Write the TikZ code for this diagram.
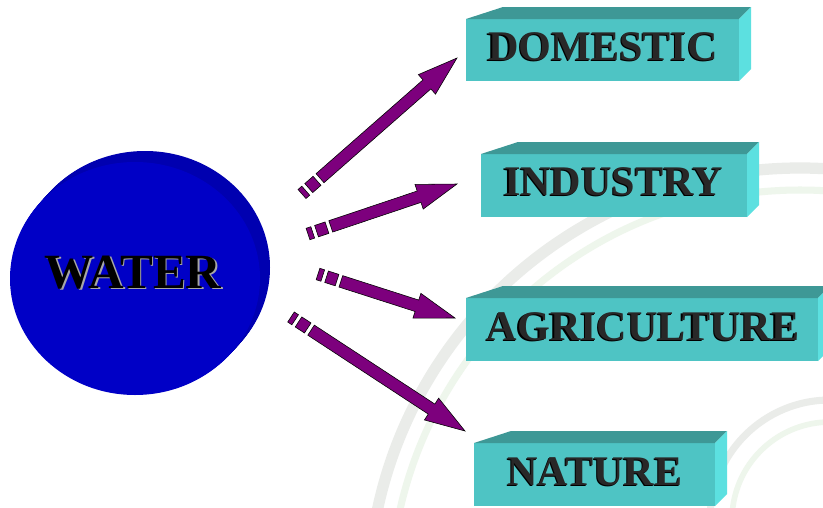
\documentclass[tikz,border=0pt]{standalone}
\usepackage{fontspec}
\setmainfont{Liberation Serif}
\usetikzlibrary{calc}

\definecolor{slabfront}{RGB}{78,196,196}
\definecolor{slabback}{RGB}{62,152,150}
\definecolor{slabside}{RGB}{92,224,224}
\definecolor{arrowpurple}{RGB}{125,0,125}
\definecolor{waterfront}{RGB}{0,0,198}
\definecolor{waterside}{RGB}{0,0,176}
\definecolor{sealgray}{RGB}{234,236,233}
\definecolor{sealgreen}{RGB}{238,246,236}
\definecolor{labelgray}{RGB}{40,40,40}

\tikzset{
  slab/.style={fill=slabfront, inner sep=0pt, outer sep=0pt},
  slablabel/.style={anchor=base, text=labelgray, font=\fontsize{30}{30}\selectfont\bfseries},
  slabshadow/.style={slablabel, text=black},
  stripearrow/.style={fill=arrowpurple, draw=black, line width=0.4pt},
}

\begin{document}
\begin{tikzpicture}[x=0.025cm, y=-0.025cm]
  % Page: one unit = one pixel of the 823x507 slide
  \fill[white] (0,0) rectangle (823,507);
  \useasboundingbox (0,0) rectangle (823,507);
  \clip (0,0) rectangle (823,507);

  % Faint seal in the background
  \draw[sealgray, line width=8] (800,600) circle (432);
  \draw[sealgreen, line width=5] (800,600) circle (410);
  \draw[sealgray, line width=5] (830,520) circle (120);
  \draw[sealgreen, line width=4] (830,520) circle (98);

  % Water cylinder: stacked discs, front disc last
  \foreach \k in {10,9,...,1} {
    \fill[waterside] ({135+\k},{278.5-1.1*\k}) ellipse [x radius=125, y radius=116.5];
  }
  \fill[waterfront] (135,278.5) ellipse [x radius=125, y radius=116.5];
  \node[anchor=base, text=black!35, font=\fontsize{35}{35}\selectfont\bfseries] (watershadow) at (134.7,289.7) {WATER};
  \node[anchor=base, text=black, font=\fontsize{35}{35}\selectfont\bfseries] (water) at (133,288) {WATER};

  % Front faces of the slabs
  \node[slab, minimum width={273*0.025cm}, minimum height={62*0.025cm}] (dom) at (602.5,50) {};
  \node[slab, minimum width={266*0.025cm}, minimum height={63*0.025cm}] (ind) at (614,185.5) {};
  \node[slab, minimum width={352*0.025cm}, minimum height={63*0.025cm}] (agr) at (642,329.5) {};
  \node[slab, minimum width={241*0.025cm}, minimum height={63*0.025cm}] (nat) at (594.5,474.5) {};

  % Top and side faces
  \foreach \b in {dom,ind,agr,nat} {
    \fill[slabback] (\b.north west) -- ++(37,-12) -- ($(\b.north east)+(12,-12)$) -- (\b.north east) -- cycle;
    \fill[slabside] (\b.north east) -- ++(12,-12) -- ($(\b.south east)+(12,-12)$) -- (\b.south east) -- cycle;
  }

  % Labels
  \node[slabshadow] (domshadow) at (601.8,61.2) {DOMESTIC};
  \node[slablabel] (domtext) at (603,60) {DOMESTIC};
  \node[slabshadow] (indshadow) at (612.3,196.2) {INDUSTRY};
  \node[slablabel] (indtext) at (613.5,195) {INDUSTRY};
  \node[slabshadow] (agrshadow) at (641.8,341.2) {AGRICULTURE};
  \node[slablabel] (agrtext) at (643,340) {AGRICULTURE};
  \node[slabshadow] (natshadow) at (593.8,486.2) {NATURE};
  \node[slablabel] (nattext) at (595,485) {NATURE};

  % Striped arrows: tail and tip in pixels
  \foreach \nm/\xa/\ya/\xb/\yb in {todom/302/194/457/58, toind/308/234/457/184,
                                   toagr/318/274/455/318, tonat/291/317/465/431} {
    \coordinate (\nm-tail) at (\xa,\ya);
    \coordinate (\nm-tip) at (\xb,\yb);
    \pgfmathsetmacro{\ang}{atan2(\ya-\yb,\xb-\xa)}
    \pgfmathsetmacro{\len}{veclen(\xb-\xa,\yb-\ya)}
    \begin{scope}[shift={(\nm-tail)}, rotate=\ang]
      \filldraw[stripearrow] (0,-6) rectangle (5,6);
      \filldraw[stripearrow] (9,-6) rectangle (20,6);
      \filldraw[stripearrow] (24,-6) -- ({\len-40},-6) -- ({\len-40},-13) -- (\len,0)
        -- ({\len-40},13) -- ({\len-40},6) -- (24,6) -- cycle;
    \end{scope}
  }
\end{tikzpicture}
\end{document}
